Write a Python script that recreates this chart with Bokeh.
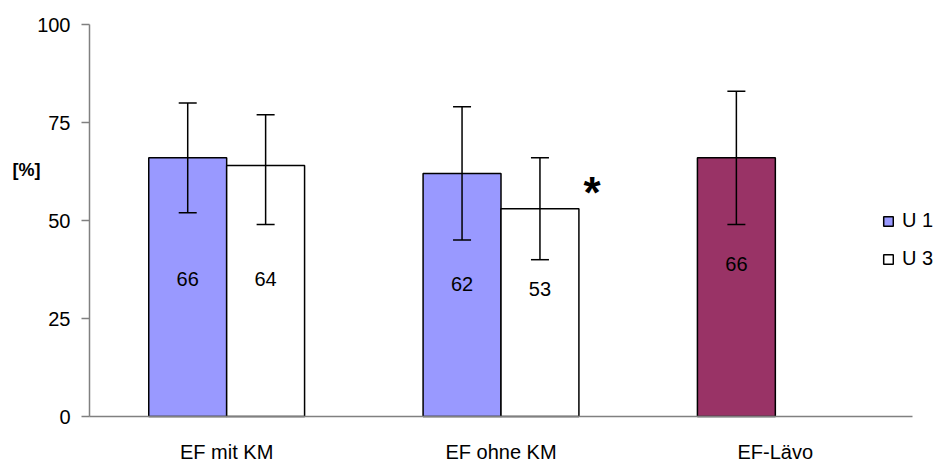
from bokeh.plotting import figure
from bokeh.models import (ColumnDataSource, Range1d, Whisker, TeeHead,
                          Legend, LegendItem, Label, FixedTicker)
from bokeh.core.properties import value
from bokeh.embed import file_html
from bokeh.resources import INLINE

categories = ["EF mit KM", "EF ohne KM", "EF-Lävo"]

u1_cats = ["EF mit KM", "EF ohne KM"]
u1_values = [66, 62]
u1_upper = [80, 79]
u1_lower = [52, 45]
u1_label_y = [35.2, 33.7]

u3_cats = ["EF mit KM", "EF ohne KM"]
u3_values = [64, 53]
u3_upper = [77, 66]
u3_lower = [49, 40]
u3_label_y = [35.0, 32.4]

lavo_cats = ["EF-Lävo"]
lavo_values = [66]
lavo_upper = [83]
lavo_lower = [49]
lavo_label_y = [38.8]

sig_cats = ["EF ohne KM"]
sig_y = [59]
sig_text = ["*"]

y_ticks = [0, 25, 50, 75, 100]

FONT = "Liberation Sans"
GRAY = "#808080"
BLUE = "#9999FF"
MAROON = "#993366"
W = 0.284
OFF = 0.142
N = len(categories)
# layout of the plot area inside the 943x466 canvas
PX_PER_CAT = 823 / N
X_START = -89 / PX_PER_CAT
X_END = N + 31 / PX_PER_CAT
PX_PER_UNIT = 392 / 100
Y_START = -50 / PX_PER_UNIT
Y_END = 100 + 24 / PX_PER_UNIT


def xpos(cats, off):
    return [categories.index(c) + 0.5 + off for c in cats]


p = figure(x_range=Range1d(X_START, X_END), y_range=Range1d(Y_START, Y_END),
           width=943, height=466, output_backend="svg", toolbar_location=None,
           min_border_left=0, min_border_right=0, min_border_top=0,
           min_border_bottom=0)
p.outline_line_color = None
p.grid.visible = False
p.background_fill_color = "white"
p.border_fill_color = "white"

s1 = ColumnDataSource(dict(x=xpos(u1_cats, -OFF), v=u1_values, up=u1_upper, lo=u1_lower,
                           ly=u1_label_y, t=[str(v) for v in u1_values]))
s3 = ColumnDataSource(dict(x=xpos(u3_cats, OFF), v=u3_values, up=u3_upper, lo=u3_lower,
                           ly=u3_label_y, t=[str(v) for v in u3_values]))
sl = ColumnDataSource(dict(x=xpos(lavo_cats, -OFF), v=lavo_values, up=lavo_upper,
                           lo=lavo_lower, ly=lavo_label_y,
                           t=[str(v) for v in lavo_values]))
ss = ColumnDataSource(dict(x=xpos(sig_cats, OFF), y=sig_y, t=sig_text))

r1 = p.vbar(x="x", top="v", bottom=0, width=W, source=s1,
            fill_color=BLUE, line_color="black", line_width=1.5)
r3 = p.vbar(x="x", top="v", bottom=0, width=W, source=s3,
            fill_color="white", line_color="black", line_width=1.5)
rl = p.vbar(x="x", top="v", bottom=0, width=W, source=sl,
            fill_color=MAROON, line_color="black", line_width=1.5)

for src in (s1, s3, sl):
    wk = Whisker(base="x", upper="up", lower="lo", level="overlay",
                 source=src, line_color="black", line_width=1.5,
                 upper_head=TeeHead(size=18, line_color="black", line_width=1.5),
                 lower_head=TeeHead(size=18, line_color="black", line_width=1.5))
    p.add_layout(wk)
    p.text(x="x", y="ly", text="t", source=src,
           text_align="center", text_baseline="middle", text_color="black",
           text_font=value(FONT), text_font_size="20px")

p.text(x="x", y="y", text="t", source=ss,
       x_offset=52, y_offset=7, text_align="center", text_baseline="middle",
       text_font=value(FONT), text_font_size="44px", text_font_style="bold",
       text_color="black")

p.add_layout(Label(x=12, y=63, x_units="screen", y_units="data", text="[%]",
                   text_font=FONT, text_font_size="18px", text_font_style="bold",
                   text_align="left", text_baseline="middle", text_color="black"))

# axes
p.yaxis.fixed_location = 0
p.yaxis.bounds = (0, 100)
p.yaxis.ticker = FixedTicker(ticks=y_ticks)
p.yaxis.minor_tick_line_color = None
p.yaxis.major_tick_in = 0
p.yaxis.major_tick_out = 8
p.yaxis.major_label_standoff = 11

p.xaxis.fixed_location = 0
p.xaxis.bounds = (0, N)
p.xaxis.ticker = FixedTicker(ticks=[i + 0.5 for i in range(N)])
p.xaxis.major_label_overrides = {i + 0.5: c for i, c in enumerate(categories)}
p.xaxis.minor_tick_line_color = None
for ax in (p.xaxis, p.yaxis):
    ax.axis_line_color = GRAY
    ax.axis_line_width = 1.5
    ax.major_tick_line_color = GRAY
    ax.major_tick_line_width = 1.5
    ax.major_label_text_font = FONT
    ax.major_label_text_font_size = "20px"
    ax.major_label_text_color = "black"
p.xaxis.major_tick_line_color = None
p.xaxis.major_tick_in = 0
p.xaxis.major_tick_out = 0
p.xaxis.major_label_standoff = 24

legend = Legend(items=[LegendItem(label="U 1", renderers=[r1]),
                       LegendItem(label="U 3", renderers=[r3])],
                location=(882, 196), orientation="vertical",
                glyph_width=12, glyph_height=12, label_height=20,
                label_standoff=8, spacing=15, padding=0, margin=0,
                border_line_color=None, background_fill_alpha=0,
                label_text_font=FONT, label_text_font_size="20px",
                label_text_color="black")
p.add_layout(legend)

open("out.html", "w").write(file_html(p, INLINE))
